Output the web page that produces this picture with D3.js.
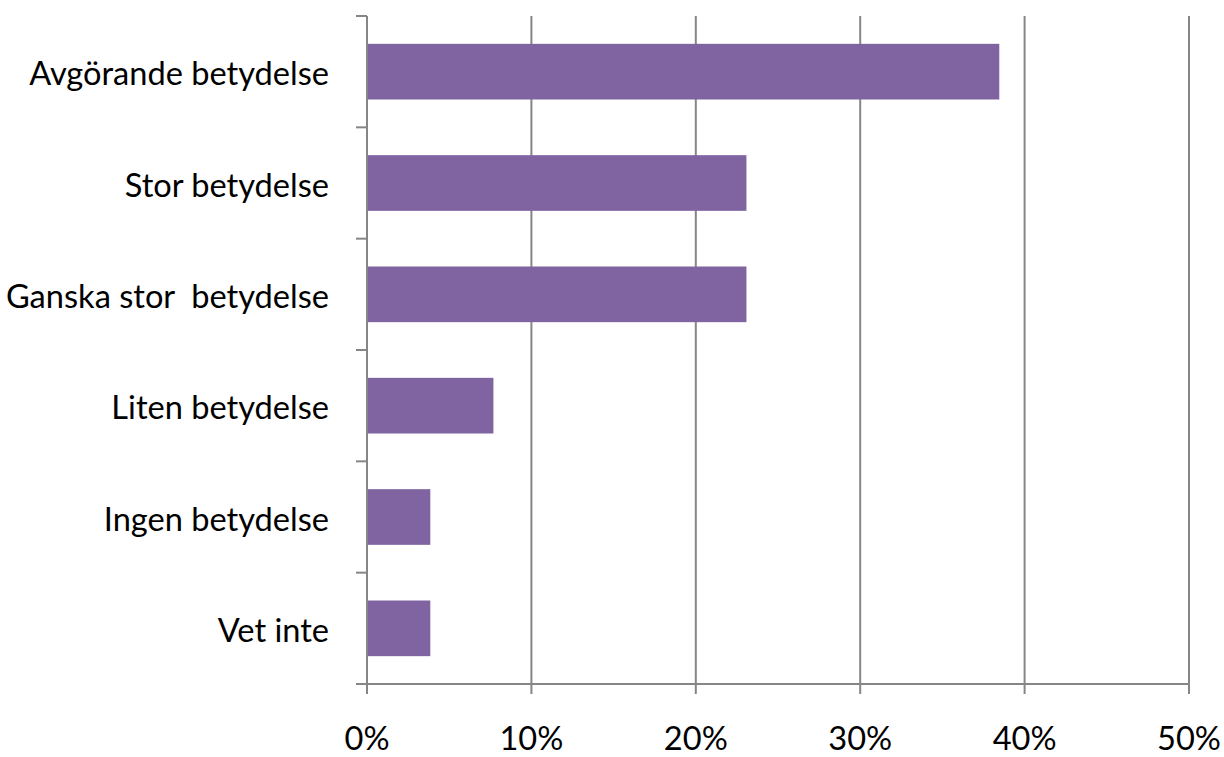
<!DOCTYPE html>
<html><head><meta charset="utf-8">
<script src="https://cdn.jsdelivr.net/npm/d3@7"></script>
<style>body{margin:0;background:#fff}svg{display:block}</style>
</head><body>
<svg id="c" width="1224" height="757"></svg>
<script>
const categories = ["Avgörande betydelse","Stor betydelse","Ganska stor  betydelse","Liten betydelse","Ingen betydelse","Vet inte"];
const values = [0.3846,0.2308,0.2308,0.0769,0.0385,0.0385];
const xTicks = [0,0.1,0.2,0.3,0.4,0.5];

const svg = d3.select("#c");
const pLeft = 367, pRight = 1189, pTop = 16, pBottom = 684;
const font = "Lato, 'Open Sans', sans-serif";
const fs = 29;
const x = d3.scaleLinear().domain([0,0.5]).range([pLeft,pRight]);
const y = d3.scaleBand().domain(categories).range([pTop,pBottom]).paddingInner(0.5).paddingOuter(0.25);
const yb = d3.scaleBand().domain(categories).range([pTop,pBottom]);
const grid = "#868686";

// gridlines
svg.append("g").selectAll("line").data(xTicks.slice(1)).join("line")
  .attr("x1",d=>x(d)).attr("x2",d=>x(d)).attr("y1",pTop).attr("y2",pBottom+10)
  .attr("stroke",grid).attr("stroke-width",2);

// bars
svg.append("g").selectAll("rect").data(categories).join("rect")
  .attr("x",x(0)).attr("y",d=>y(d)).attr("height",y.bandwidth())
  .attr("width",(d,i)=>x(values[i])-x(0)).attr("fill","#8064A2");

// y axis
svg.append("line").attr("x1",pLeft).attr("x2",pLeft).attr("y1",pTop).attr("y2",pBottom+10).attr("stroke",grid).attr("stroke-width",2);
const yTickPos = categories.map(c=>yb(c)).concat([pBottom]);
svg.append("g").selectAll("line").data(yTickPos).join("line")
  .attr("x1",pLeft-11).attr("x2",pLeft).attr("y1",d=>d).attr("y2",d=>d).attr("stroke",grid).attr("stroke-width",2);
// x axis
svg.append("line").attr("x1",pLeft-11).attr("x2",pRight).attr("y1",pBottom).attr("y2",pBottom).attr("stroke",grid).attr("stroke-width",2);

// category labels
const lab = svg.append("g").selectAll("text").data(categories).join("text")
  .attr("x",329).attr("y",d=>yb(d)+yb.bandwidth()/2).attr("dy","0.42em")
  .attr("text-anchor","end").attr("font-family",font).attr("font-size",fs).attr("fill","#000")
  .style("white-space","pre").text(d=>d);
const w0 = lab.nodes()[0].getComputedTextLength();
const fs2 = fs*300/w0;
lab.attr("font-size",fs2);

svg.append("g").selectAll("text").data(xTicks).join("text")
  .attr("x",d=>x(d)).attr("y",750).attr("text-anchor","middle")
  .attr("font-family",font).attr("font-size",fs2).attr("fill","#000")
  .text(d=>d3.format(".0%")(d));
</script>
</body></html>
